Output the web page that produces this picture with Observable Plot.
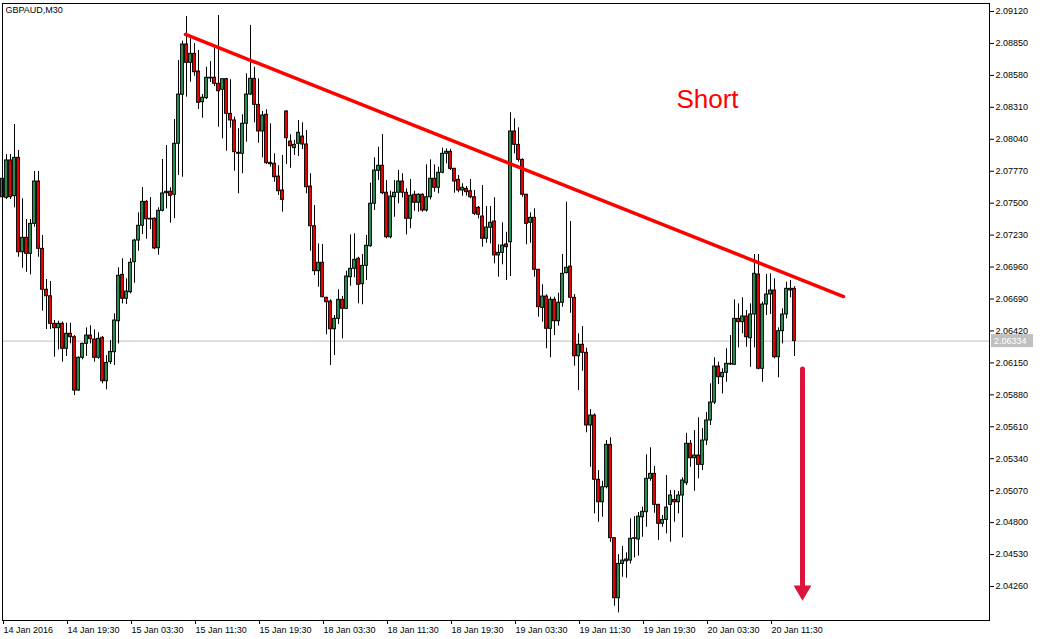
<!DOCTYPE html>
<html><head><meta charset="utf-8">
<script src="https://cdn.jsdelivr.net/npm/d3@7"></script>
<script src="https://cdn.jsdelivr.net/npm/@observablehq/plot@0.6"></script>
<style>
html,body{margin:0;padding:0;background:#fff;}
#chart{width:1043px;height:639px;overflow:hidden;}
</style></head><body><div id="chart"></div>
<script>
const symbolTitle = "GBPAUD,M30";

const openP = [2.07550,2.07545,2.07861,2.07559,2.07883,2.07085,2.07207,2.07072,2.07325,2.07683,
2.07114,2.06768,2.06713,2.06480,2.06443,2.06480,2.06269,2.06396,2.06367,2.05916,
2.06193,2.06311,2.06381,2.06347,2.06193,2.06362,2.05995,2.06156,2.06240,2.06502,
2.06894,2.06692,2.06747,2.07001,2.07184,2.07309,2.07511,2.07368,2.07368,2.07119,
2.07435,2.07584,2.07596,2.07571,2.08002,2.08416,2.08841,2.08686,2.08762,2.08613,
2.08353,2.08387,2.08560,2.08560,2.08509,2.08458,2.08548,2.08255,2.08199,2.07926,
2.07917,2.08171,2.08418,2.08551,2.08331,2.08106,2.08247,2.07841,2.07833,2.07725,
2.07607,2.08275,2.08021,2.07965,2.08002,2.08063,2.07996,2.07641,2.07305,2.06925,
2.06996,2.06700,2.06669,2.06434,2.06522,2.06683,2.06607,2.06874,2.06945,2.07030,
2.06815,2.06970,2.07136,2.07495,2.07773,2.07816,2.07588,2.07212,2.07550,2.07588,
2.07683,2.07588,2.07368,2.07571,2.07503,2.07571,2.07438,2.07550,2.07706,2.07630,
2.07757,2.07917,2.07934,2.07790,2.07697,2.07607,2.07621,2.07601,2.07550,2.07461,
2.07387,2.07199,2.07292,2.07345,2.07058,2.07080,2.07151,2.07170,2.08106,2.07993,
2.07866,2.07571,2.07334,2.07376,2.06937,2.06615,2.06711,2.06438,2.06683,2.06502,
2.06658,2.06908,2.06964,2.06700,2.06206,2.06303,2.06235,2.05621,2.05705,2.05162,
2.04972,2.05099,2.05457,2.04668,2.04161,2.04451,2.04473,2.04479,2.04663,2.04657,
2.04845,2.04888,2.05170,2.05212,2.04950,2.04790,2.04823,2.04950,2.04992,2.04972,
2.05029,2.05133,2.05466,2.05344,2.05367,2.05288,2.05494,2.05663,2.05815,2.06119,
2.06029,2.06066,2.06136,2.06134,2.06522,2.06494,2.06542,2.06358,2.06559,2.06897,
2.06100,2.06643,2.06728,2.06762,2.06198,2.06418,2.06559,2.06776,2.06776];

const highP = [2.07776,2.07911,2.07911,2.08165,2.07945,2.07537,2.07362,2.07362,2.07768,2.07768,
2.07227,2.06855,2.06838,2.06508,2.06502,2.06494,2.06485,2.06485,2.06381,2.06200,
2.06316,2.06446,2.06463,2.06429,2.06404,2.06373,2.06212,2.06339,2.06565,2.06954,
2.07030,2.06861,2.07030,2.07195,2.07418,2.07632,2.07522,2.07548,2.07376,2.07461,
2.07869,2.07987,2.07630,2.08207,2.08706,2.08869,2.09078,2.08889,2.08850,2.08790,
2.08418,2.08649,2.08697,2.08813,2.09086,2.08548,2.08555,2.08543,2.08227,2.08129,
2.08247,2.08593,2.09002,2.08649,2.08551,2.08275,2.08289,2.08171,2.07917,2.07816,
2.07903,2.08280,2.08078,2.08030,2.08199,2.08179,2.08114,2.07748,2.07480,2.07156,
2.07151,2.06705,2.06683,2.06550,2.06768,2.06711,2.06925,2.07232,2.07241,2.07043,
2.07066,2.07227,2.07669,2.07883,2.07973,2.08080,2.07691,2.07601,2.07691,2.07776,
2.07748,2.07621,2.07700,2.07601,2.07579,2.07579,2.07824,2.07866,2.07824,2.07804,
2.07965,2.07959,2.07954,2.07795,2.07734,2.07664,2.07641,2.07700,2.07607,2.07472,
2.07649,2.07472,2.07472,2.07545,2.07148,2.07334,2.07254,2.08264,2.08213,2.08137,
2.07875,2.07575,2.07418,2.07452,2.06940,2.06810,2.06725,2.06705,2.06705,2.06739,
2.07066,2.07508,2.07345,2.06728,2.06396,2.06457,2.06274,2.05756,2.05719,2.05240,
2.05150,2.05494,2.05517,2.04672,2.04530,2.04598,2.04544,2.04832,2.04851,2.04885,
2.04930,2.05373,2.05432,2.05274,2.04955,2.04860,2.05198,2.05071,2.05071,2.05063,
2.05178,2.05555,2.05494,2.05578,2.05686,2.05595,2.05730,2.05973,2.06193,2.06156,
2.06100,2.06269,2.06381,2.06683,2.06649,2.06700,2.06593,2.06649,2.07066,2.07066,
2.06663,2.06897,2.06903,2.06861,2.06446,2.06607,2.06832,2.06846,2.06795];

const lowP = [2.07413,2.07531,2.07531,2.07461,2.07043,2.06950,2.06916,2.06894,2.07297,2.07043,
2.06587,2.06432,2.06432,2.06198,2.06260,2.06156,2.06204,2.06311,2.05874,2.05910,
2.06176,2.06204,2.06311,2.06156,2.06181,2.05973,2.05922,2.06136,2.06128,2.06311,
2.06649,2.06643,2.06734,2.06823,2.07094,2.07235,2.07195,2.07277,2.07106,2.07060,
2.07427,2.07452,2.07331,2.07370,2.07734,2.07719,2.08396,2.08522,2.08573,2.08292,
2.08218,2.08376,2.08520,2.08486,2.08142,2.08044,2.07939,2.08134,2.07770,2.07579,
2.07748,2.08015,2.08410,2.08179,2.08007,2.07883,2.07827,2.07804,2.07677,2.07565,
2.07424,2.07827,2.07795,2.07903,2.07894,2.07954,2.07579,2.07094,2.06888,2.06790,
2.06700,2.06387,2.06128,2.06212,2.06474,2.06353,2.06601,2.06798,2.06869,2.06649,
2.06641,2.06846,2.07128,2.07438,2.07691,2.07571,2.07199,2.07199,2.07381,2.07495,
2.07545,2.07232,2.07283,2.07432,2.07424,2.07424,2.07424,2.07528,2.07593,2.07579,
2.07748,2.07833,2.07776,2.07584,2.07588,2.07559,2.07559,2.07537,2.07396,2.07368,
2.07128,2.07161,2.07156,2.06987,2.06874,2.06979,2.06846,2.06880,2.07917,2.07846,
2.07550,2.07148,2.07161,2.06874,2.06536,2.06494,2.06269,2.06193,2.06381,2.06460,
2.06621,2.06903,2.06570,2.06122,2.05916,2.06080,2.05559,2.05268,2.04874,2.04803,
2.04845,2.05085,2.04634,2.04093,2.04037,2.04338,2.04330,2.04451,2.04502,2.04516,
2.04676,2.04761,2.05150,2.04879,2.04648,2.04761,2.04705,2.04634,2.04803,2.04874,
2.04671,2.05113,2.05268,2.05065,2.05170,2.05240,2.05451,2.05621,2.05798,2.05967,
2.05888,2.05986,2.06128,2.06130,2.06277,2.06396,2.06282,2.06113,2.06277,2.06091,
2.05986,2.06550,2.06559,2.06184,2.06024,2.06311,2.06522,2.06700,2.06204];

const closeP = [2.07706,2.07861,2.07550,2.07883,2.07085,2.07207,2.07072,2.07325,2.07683,2.07114,
2.06768,2.06713,2.06480,2.06443,2.06480,2.06269,2.06396,2.06367,2.05916,2.06193,
2.06311,2.06381,2.06350,2.06193,2.06353,2.05995,2.06150,2.06243,2.06508,2.06886,
2.06692,2.06753,2.06996,2.07184,2.07309,2.07511,2.07364,2.07362,2.07117,2.07435,
2.07582,2.07596,2.07562,2.08002,2.08418,2.08841,2.08686,2.08762,2.08607,2.08348,
2.08391,2.08560,2.08554,2.08509,2.08446,2.08548,2.08255,2.08199,2.07931,2.07917,
2.08171,2.08418,2.08551,2.08331,2.08106,2.08241,2.07838,2.07829,2.07719,2.07601,
2.07528,2.08049,2.07981,2.07993,2.08095,2.07996,2.07635,2.07305,2.06925,2.06996,
2.06705,2.06663,2.06434,2.06522,2.06683,2.06607,2.06880,2.06945,2.07021,2.06810,
2.06970,2.07140,2.07495,2.07776,2.07816,2.07584,2.07212,2.07556,2.07588,2.07683,
2.07588,2.07368,2.07562,2.07503,2.07571,2.07438,2.07550,2.07706,2.07630,2.07757,
2.07917,2.07934,2.07790,2.07683,2.07607,2.07630,2.07593,2.07550,2.07410,2.07402,
2.07199,2.07294,2.07334,2.07058,2.07080,2.07142,2.07128,2.08106,2.07993,2.07866,
2.07571,2.07325,2.07376,2.06937,2.06621,2.06711,2.06438,2.06683,2.06502,2.06658,
2.06903,2.06954,2.06700,2.06206,2.06303,2.06235,2.05621,2.05705,2.05162,2.04972,
2.05099,2.05457,2.04668,2.04161,2.04451,2.04479,2.04488,2.04663,2.04668,2.04851,
2.04891,2.05170,2.05212,2.04950,2.04790,2.04823,2.04927,2.05029,2.04972,2.05029,
2.05156,2.05466,2.05344,2.05367,2.05288,2.05494,2.05663,2.05815,2.06119,2.06029,
2.06066,2.06142,2.06142,2.06522,2.06494,2.06542,2.06367,2.06559,2.06903,2.06100,
2.06643,2.06728,2.06762,2.06198,2.06418,2.06559,2.06776,2.06762,2.06334];

const xTickIdx = [0,16,32,48,64,80,96,112,128,144,160,176,192];
const xTickLabels = ["14 Jan 2016","14 Jan 19:30","15 Jan 03:30","15 Jan 11:30","15 Jan 19:30",
  "18 Jan 03:30","18 Jan 11:30","18 Jan 19:30","19 Jan 03:30","19 Jan 11:30","19 Jan 19:30",
  "20 Jan 03:30","20 Jan 11:30"];
const yTicks = [2.09120,2.08850,2.08580,2.08310,2.08040,2.07770,2.07500,2.07230,2.06960,
  2.06690,2.06420,2.06150,2.05880,2.05610,2.05340,2.05070,2.04800,2.04530,2.04260];
const lastPrice = 2.06334;

const trendIdx = [45.75, 210.25];
const trendPrice = [2.08926, 2.06711];
const noteText = "Short";
const noteIdx = 176.25;
const notePrice = 2.08376;
const arrowIdx = 200;
const arrowFrom = 2.06094;
const arrowTo = 2.04250;
const arrowHeadPrice = 2.04226;

const GREEN = "#2e9b5e", RED = "#ff0000", CRIMSON = "#dc143c";

const candles = openP.map((o, i) => ({i, o, h: highP[i], l: lowP[i], c: closeP[i]}));
const trend = trendIdx.map((x, k) => ({x, y: trendPrice[k]}));
const labelOf = new Map(xTickIdx.map((d, k) => [d, xTickLabels[k]]));

const chart = Plot.plot({
  width: 1043, height: 639,
  marginLeft: 2, marginRight: 54, marginTop: 3, marginBottom: 19,
  style: {fontFamily: "'Liberation Sans', Arial, sans-serif", fontSize: "9px", background: "#fff", color: "#000", overflow: "visible"},
  x: {type: "linear", domain: [0, 246.75], axis: null},
  y: {domain: [2.039726, 2.091876], axis: null},
  marks: [
    Plot.ruleY([lastPrice], {stroke: "#c0c0c0", strokeWidth: 1}),
    Plot.ruleX(candles, {x: "i", y1: "l", y2: "h", stroke: "#000", strokeWidth: 1}),
    Plot.rect(candles, {filter: d => d.c >= d.o, x1: d => d.i - 0.35, x2: d => d.i + 0.35, y1: "o", y2: "c", fill: GREEN, stroke: "#000", strokeWidth: 1}),
    Plot.rect(candles, {filter: d => d.c < d.o, x1: d => d.i - 0.35, x2: d => d.i + 0.35, y1: "o", y2: "c", fill: RED, stroke: "#000", strokeWidth: 1}),
    Plot.line(trend, {x: "x", y: "y", stroke: RED, strokeWidth: 3.5}),
    Plot.text([{x: noteIdx, y: notePrice, t: noteText}], {x: "x", y: "y", text: "t", fill: RED, fontSize: 26, fontFamily: "'Liberation Sans', Arial, sans-serif"}),
    Plot.ruleX([{x: arrowIdx, a: arrowFrom, b: arrowTo}], {x: "x", y1: "a", y2: "b", stroke: CRIMSON, strokeWidth: 5, strokeLinecap: "round"}),
    Plot.dot([{x: arrowIdx, y: arrowHeadPrice}], {x: "x", y: "y", symbol: "triangle", r: 6.6, rotate: 180, fill: CRIMSON, stroke: "none"}),
    Plot.text([symbolTitle], {frameAnchor: "top-left", dx: 3, dy: 3, textAnchor: "start", lineAnchor: "top", fontSize: 9, fill: "#000"}),
    Plot.axisY({anchor: "right", ticks: yTicks, tickFormat: d => d.toFixed(5), tickSize: 4, tickPadding: 2, fontSize: 9, label: null}),
    Plot.axisX({ticks: xTickIdx, tickFormat: d => labelOf.get(d), tickSize: 4, tickPadding: 2, textAnchor: "start", dx: 1, fontSize: 9, label: null}),
    Plot.frame({stroke: "#000"})
  ]
});

document.getElementById("chart").appendChild(chart);

// current-price tag on the price axis, positioned with the plot's own y scale
const yPos = chart.scale("y").apply(lastPrice);
const svg = d3.select(chart);
const tag = svg.append("g").attr("text-anchor", "start");
tag.append("rect").attr("x", 991).attr("y", yPos - 6.5).attr("width", 42).attr("height", 13).attr("fill", "#c0c0c0");
tag.append("text").attr("x", 994).attr("y", yPos).attr("dy", "0.35em").attr("fill", "#fff")
  .attr("text-anchor", "start")
  .style("font-size", "9px").style("font-family", "'Liberation Sans', Arial, sans-serif").text(lastPrice.toFixed(5));
</script>
</body></html>
